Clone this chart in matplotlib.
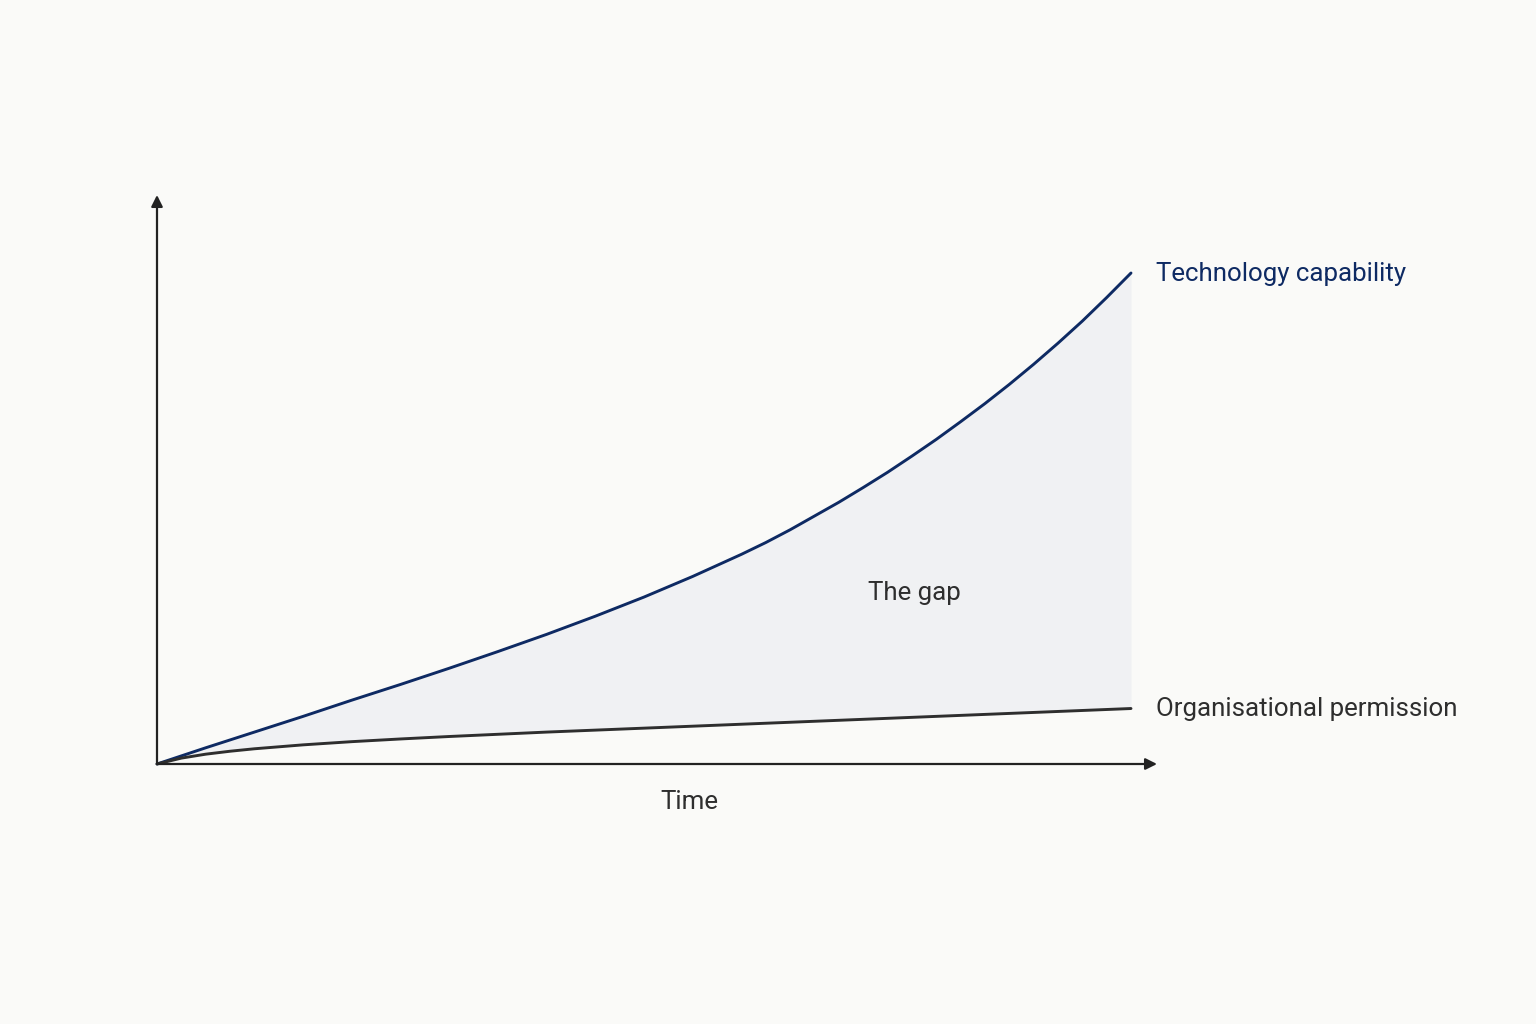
import numpy as np
import matplotlib.pyplot as plt

# time axis (arbitrary units) and the two curves
time = [0, 0.25, 0.5, 0.75, 1, 1.5, 2, 2.5, 3, 3.5, 4, 4.5, 5, 5.5, 6,
        6.25, 6.5, 6.75, 7, 7.25, 7.5, 7.75, 8, 8.25, 8.5, 8.75, 9, 9.25, 9.5, 9.75, 10]
tech = [0, 0.165, 0.33, 0.49, 0.65, 0.97, 1.30, 1.62, 1.95, 2.29, 2.64, 3.01, 3.40, 3.82, 4.27,
        4.51, 4.77, 5.05, 5.33, 5.63, 5.94, 6.27, 6.61, 6.97, 7.34, 7.73, 8.14, 8.57, 9.02, 9.50, 10.0]
perm = [0, 0.12, 0.20, 0.26, 0.31, 0.39, 0.455, 0.51, 0.56, 0.605, 0.65, 0.69, 0.73, 0.77, 0.81,
        0.83, 0.85, 0.87, 0.89, 0.91, 0.93, 0.95, 0.97, 0.99, 1.01, 1.03, 1.05, 1.07, 1.09, 1.11, 1.13]

tech_label = "Technology capability"
perm_label = "Organisational permission"
x_label = "Time"
gap_label = "The gap"

BG = "#fafaf8"
NAVY = "#0e2a63"
DARK = "#2e2e2e"
AXIS = "#222222"
FILL = "#f0f1f3"

plt.rcParams["font.family"] = ["Roboto", "DejaVu Sans"]

fig = plt.figure(figsize=(15.36, 10.24), dpi=100, facecolor=BG)
ax = fig.add_axes([157 / 1536, 260 / 1024, 1000 / 1536, 569 / 1024])
ax.set_facecolor(BG)
ax.set_xlim(0, 1000 / 97.4)
ax.set_ylim(0, 569 / 49.1)

t = np.array(time)
ax.fill_between(t, perm, tech, color=FILL, lw=0, zorder=1)
ax.plot(t, tech, color=NAVY, lw=2.1, zorder=3, clip_on=False,
        solid_capstyle="round", solid_joinstyle="round")
ax.plot(t, perm, color=DARK, lw=2.1, zorder=3, clip_on=False,
        solid_capstyle="round", solid_joinstyle="round")

for s in ax.spines.values():
    s.set_visible(False)
ax.set_xticks([])
ax.set_yticks([])

# axis arrows
arrow = dict(arrowstyle="-|>", color=AXIS, lw=1.6, mutation_scale=17, shrinkA=0, shrinkB=0)
ax.annotate("", xy=(1, 0), xytext=(0, 0), xycoords="axes fraction", arrowprops=arrow, zorder=4)
ax.annotate("", xy=(0, 1), xytext=(0, 0), xycoords="axes fraction", arrowprops=arrow, zorder=4)

fs = 18.6
ax.text(t[-1] + 0.26, tech[-1] - 0.02, tech_label, color=NAVY, fontsize=fs, va="center", ha="left", clip_on=False)
ax.text(t[-1] + 0.26, perm[-1] - 0.02, perm_label, color=DARK, fontsize=fs, va="center", ha="left", clip_on=False)
ax.text(5.47, -0.77, x_label, color=DARK, fontsize=fs, va="center", ha="center", clip_on=False)
ax.text(7.78, 3.48, gap_label, color=DARK, fontsize=fs, va="center", ha="center")

fig.savefig("out.png", dpi=100, facecolor=BG)
